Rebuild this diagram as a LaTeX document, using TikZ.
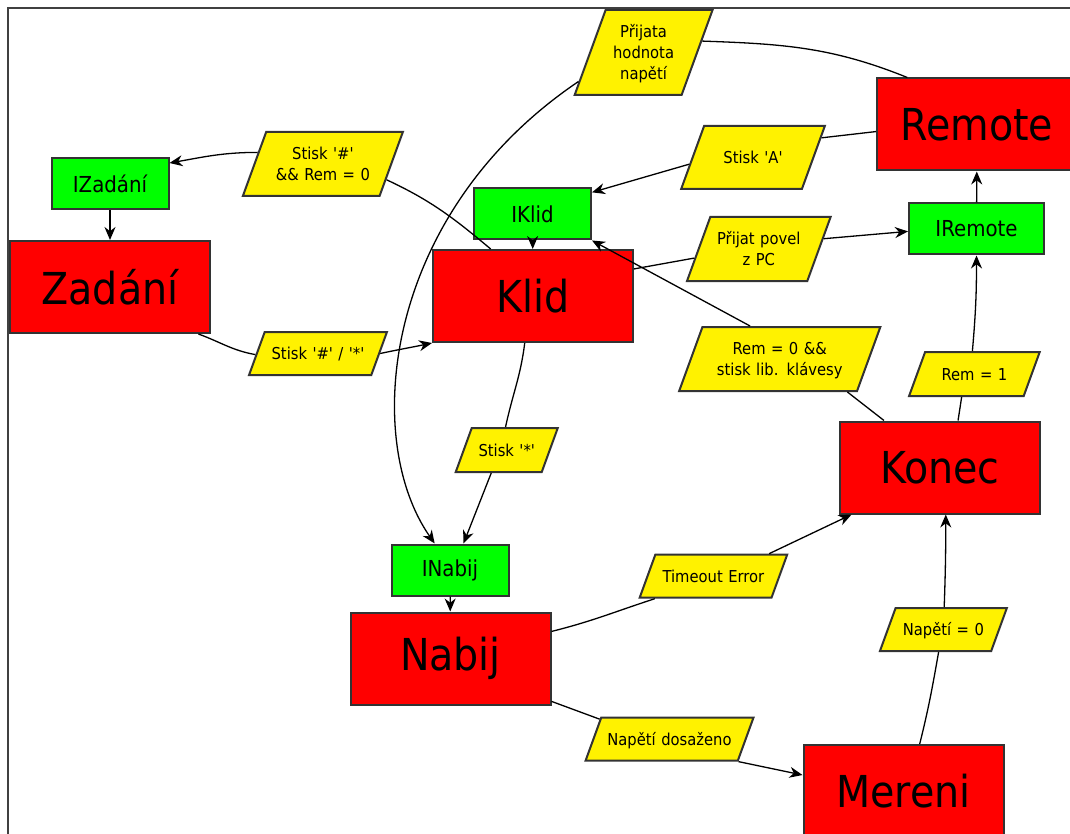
\documentclass[tikz,border=0pt]{standalone}
\usepackage{fontspec}
\setmainfont{DejaVu Sans Condensed}
\usetikzlibrary{arrows.meta,shapes.geometric}
\newcommand\sq{\textquotesingle}
\tikzstyle{state}=[rectangle,draw=black!80,line width=1pt,fill=red,minimum width=100pt,minimum height=46pt,inner sep=0pt,font=\fontsize{22}{26}\selectfont]
\tikzstyle{init}=[rectangle,draw=black!80,line width=1pt,fill=green,minimum width=58.5pt,minimum height=25.5pt,inner sep=0pt,font=\fontsize{11}{13}\selectfont]
\tikzstyle{cond}=[trapezium,trapezium left angle=70,trapezium right angle=110,draw=black!80,line width=1pt,fill=yellow,inner sep=0pt,align=center,font=\fontsize{8.2}{10.3}\selectfont]
\tikzstyle{oneline}=[text height=13.75pt,text depth=7.75pt]
\tikzstyle{twolines}=[text height=13.85pt,text depth=18.15pt]
\tikzstyle{edge}=[draw,line width=0.65pt,-{Stealth[length=6.5pt,width=5.5pt]}]

\begin{document}
\begin{tikzpicture}[x=0.5pt,y=0.5pt]

\useasboundingbox (0,0) rectangle (1070,-834);
\draw[line width=1pt,black!75] (8,-8) rectangle (1090,-850);

    % states
    \foreach \pos/ \name/ \txt in {{(110,-287)/zadani/Zadání}, {(533,-296)/klid/Klid}, {(450.5,-658.5)/nabij/Nabij},
        {(940,-467.5)/konec/Konec}, {(977,-124.5)/remote/Remote}, {(903.5,-791)/mereni/Mereni}}
        \node[state] (\name) at \pos {\txt};

    % entry boxes
    \foreach \pos/ \name/ \txt in {{(110,-183.5)/izadani/IZadání}, {(532.5,-214)/iklid/IKlid}, {(450,-570)/inabij/INabij}}
        \node[init] (\name) at \pos {\txt};
    \node[init,minimum width=67.5pt] (iremote) at (976.5,-229) {IRemote};

    % conditions
    \node[cond,twolines,text width=56.7pt] (hashrem) at (322.9,-163.9) {Stisk \sq\#\sq\\\&\& Rem = 0};
    \node[cond,oneline,text width=53.3pt] (hashstar) at (318,-353.5) {Stisk \sq\#\sq{} / \sq*\sq};
    \node[cond,text height=13.95pt,text depth=28.55pt,text width=38pt] (prijata) at (643.6,-52.5) {Přijata\\hodnota\\napětí};
    \node[cond,text height=18.75pt,text depth=12.75pt,text width=48.9pt] (stiskA) at (753,-157.5) {Stisk \sq A\sq};
    \node[cond,twolines,text width=48.5pt] (povel) at (758.8,-249) {Přijat povel\\z PC};
    \node[cond,twolines,text width=77.3pt] (remlib) at (779.75,-359) {Rem = 0 \&\&\\stisk lib. klávesy};
    \node[cond,text height=14pt,text depth=8pt,text width=49.3pt] (remone) at (974.4,-374) {Rem = 1};
    \node[cond,text height=14pt,text depth=8pt,text width=35pt] (star) at (506.75,-450) {Stisk \sq*\sq};
    \node[cond,oneline,text width=58.1pt] (timeout) at (713.4,-576.2) {Timeout Error};
    \node[cond,oneline,text width=47.8pt] (napeti) at (943.4,-629.5) {Napětí = 0};
    \node[cond,oneline,text width=68.3pt] (dosazeno) at (669.5,-739.2) {Napětí dosaženo};

    % entry arrows
    \foreach \source/ \dest in {izadani/zadani, iklid/klid, inabij/nabij, iremote/remote}
        \path[edge] (\source) -- (\dest);

    % transitions
    \draw[edge] (zadani.-28) to[out=-20,in=170] (hashstar.181)
        (hashstar.0) to[out=12,in=192] (klid.south west);
    \draw[edge] (klid.132) to[out=140,in=-25] (hashrem.-14)
        (hashrem.170) to[out=180,in=10] (izadani.19);
    \draw[edge] (remote.146) to[out=158,in=-2] (prijata.11)
        (prijata.204) to[out=214,in=125,out distance=118pt,in distance=64pt] (inabij.120);
    \draw[edge] (remote.184) -- (stiskA.16) (stiskA.186) -- (iklid.20);
    \draw[edge] (klid.15) -- (povel.188) (povel.9) -- (iremote.182);
    \draw[edge] (konec.140) -- (remlib.-26) (remlib.132) -- (iklid.-24);
    \draw[edge] (konec.69) -- (remone.241) (remone.95) to[out=85,in=-90] (iremote.south);
    \draw[edge] (klid.260) to[out=-97,in=78] (star.93) (star.236) -- (inabij.63);
    \draw[edge] (nabij.15) to[out=14,in=198] (timeout.201) (timeout.22) -- (konec.208);
    \draw[edge] (nabij.-23) -- (dosazeno.164) (dosazeno.-18) -- (mereni.171);
    \draw[edge] (mereni.71) to[out=76,in=-100] (napeti.258) (napeti.88) to[out=88,in=-90] (konec.-83);

\end{tikzpicture}
\end{document}
